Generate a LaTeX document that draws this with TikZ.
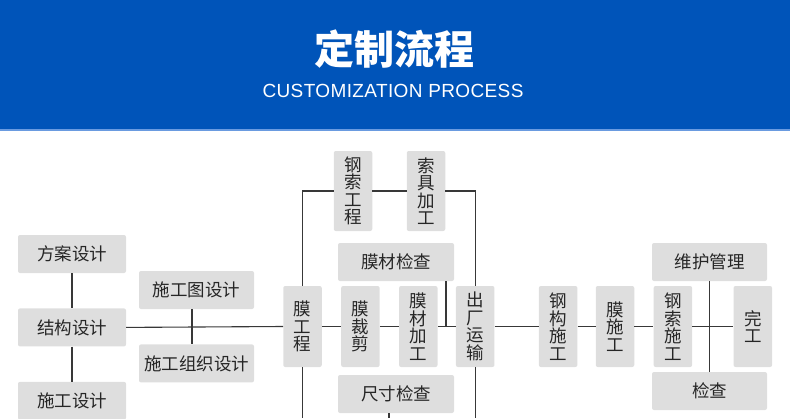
\documentclass[tikz,border=0pt]{standalone}
\usepackage{fontspec}
\newfontfamily\cjk{Noto Sans CJK SC}
\newfontfamily\latinsans{Liberation Sans}[LetterSpace=2]
\usetikzlibrary{positioning}
\definecolor{headblue}{HTML}{0054B9}
\definecolor{headedge}{HTML}{6A9BE0}
\definecolor{boxgray}{HTML}{DEDEDE}
\definecolor{linegray}{HTML}{383838}
\tikzstyle{stage} = [fill=boxgray, rounded corners=2pt, inner sep=0pt,
text=black!85, align=center,
font=\cjk\fontsize{17.5pt}{17.5pt}\selectfont]
\tikzstyle{hstage} = [stage, minimum width=108pt, minimum height=38pt]
\tikzstyle{vstage} = [stage, minimum width=38.5pt, minimum height=81pt]
\tikzstyle{link} = [draw=linegray, line width=1.1pt]

\begin{document}
\begin{tikzpicture}[x=1pt, y=-1pt] % pixel grid, y downwards
    \useasboundingbox (0,0) rectangle (790,418);
    % header band
    \fill[headblue] (0,0) rectangle (790,129);
    \fill[headedge] (0,129) rectangle (790,130.5);
    \node[text=white, font=\cjk\bfseries\fontsize{40pt}{40pt}\selectfont] (title) at (394,49) {定制流程};
    \node[text=white, font=\latinsans\fontsize{19pt}{19pt}\selectfont] (subtitle) at (393,91) {CUSTOMIZATION PROCESS};

    % design
    \node[hstage] (fangan) at (72,254) {方案设计};
    \node[hstage, below=35pt of fangan] (jiegou) {结构设计};
    \node[hstage, below=35pt of jiegou] (shigong) {施工设计};
    \node[hstage, minimum width=115pt] (tuzhi) at (196.5,290) {施工图设计};
    \node[hstage, minimum width=115pt, below=35pt of tuzhi] (zuzhi) {施工组织设计};

    % membrane and cable works
    \node[vstage] (mo) at (302.5,326.5) {膜\\工\\程};
    \node[vstage, right=19pt of mo] (caijian) {膜\\裁\\剪};
    \node[vstage, right=19pt of caijian] (jiagong) {膜\\材\\加\\工};
    \node[vstage, right=18pt of jiagong] (chuchang) {出\\厂\\运\\输};
    \node[vstage, minimum height=80pt] (gangsuo) at (353,191) {钢\\索\\工\\程};
    \node[vstage, minimum height=80pt] (suoju) at (426,191) {索\\具\\加\\工};
    \node[hstage, minimum width=116pt] (mocai) at (396,262) {膜材检查};
    \node[hstage, minimum width=116pt] (chicun) at (396,394) {尺寸检查};

    % site works
    \node[vstage, right=44pt of chuchang] (ganggou) {钢\\构\\施\\工};
    \node[vstage, right=18pt of ganggou] (moshi) {膜\\施\\工};
    \node[vstage, right=19pt of moshi] (suoshi) {钢\\索\\施\\工};
    \node[vstage, right=41pt of suoshi] (wangong) {完\\工};
    \node[hstage, minimum width=115pt] (weihu) at (709.5,262) {维护管理};
    \node[hstage, minimum width=115pt] (jiancha) at (709.5,391) {检查};

    \coordinate (edge) at (0,418);

    \draw[link] (fangan) -- (jiegou);
    \draw[link] (jiegou) -- (shigong);
    \draw[link] ([xshift=-4.5pt]tuzhi.south) -- ([xshift=-4.5pt]zuzhi.north);
    \draw[link] (jiegou.east) -- (mo.west);
    \foreach \a/\b in {mo/caijian, caijian/jiagong, jiagong/chuchang, chuchang/ganggou,
        ganggou/moshi, moshi/suoshi, suoshi/wangong}
        \draw[link] (\a) -- (\b);
    \draw[link] (mo.north) |- (gangsuo.west);
    \draw[link] (gangsuo.east) -- (suoju.west);
    \draw[link] (suoju.east) -| (chuchang.north);
    \draw[link] ([xshift=50pt]mocai.south) -- ([xshift=50pt]mocai.south |- jiagong.east);
    \draw[link] (mo.south) -- (mo.south |- edge);
    \draw[link] (chuchang.south) -- (chuchang.south |- edge);
    \draw[link] ([xshift=-7pt]chicun.south) -- ([xshift=-7pt]chicun.south |- edge);
    \draw[link] (weihu) -- (jiancha);
\end{tikzpicture}
\end{document}
